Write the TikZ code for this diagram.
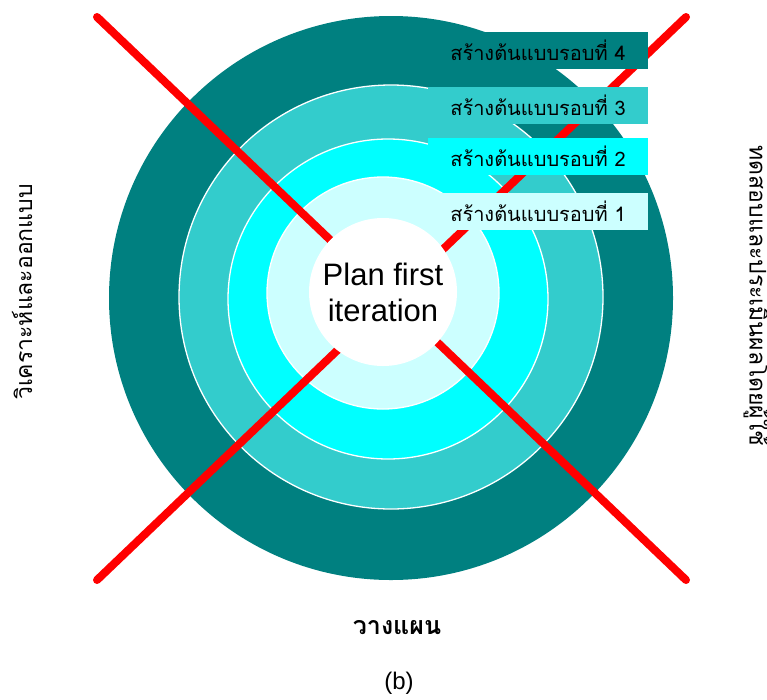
\documentclass[tikz,border=0pt]{standalone}
\usepackage{fontspec}
\setmainfont{Liberation Sans}
\newfontfamily\thaifont[Script=Thai]{Loma}
\definecolor{ringdark}{HTML}{008080}
\definecolor{ringmid}{HTML}{33CCCC}
\definecolor{ringcyan}{HTML}{00FFFF}
\definecolor{ringpale}{HTML}{CCFFFF}
\definecolor{crossred}{HTML}{FF0000}
\begin{document}
\begin{tikzpicture}[x=1pt,y=-1pt,
  ring/.style={circle, inner sep=0pt, outer sep=0pt},
  ringedge/.style={ring, draw=white, line width=1.3pt},
  cross/.style={draw=crossred, line width=8pt, line cap=round},
  roundtag/.style={rectangle, inner sep=0pt, outer sep=0pt,
    minimum width=220pt, minimum height=37pt,
    font=\thaifont\fontsize{20}{24}\selectfont, text=black},
  sidelabel/.style={font=\thaifont\fontsize{23}{26}\selectfont, inner sep=0pt},
  core/.style={circle, fill=white, inner sep=0pt, minimum size=148pt,
    align=center, font=\fontsize{31}{36}\selectfont}]
\useasboundingbox (0,0) rectangle (767,699);
\fill[white] (0,0) rectangle (767,699);

% concentric iteration rings, outermost first
\node[ring, fill=ringdark, minimum size=564pt] (ring4) at (391,298) {};
\node[ringedge, fill=ringmid, minimum size=424pt] (ring3) at (391,297) {};
\node[ringedge, fill=ringcyan, minimum size=320pt] (ring2) at (388,299) {};
\node[ringedge, fill=ringpale, minimum size=232pt] (ring1) at (383,293) {};

% the red cross over the rings
\coordinate (tl) at (97,17);
\coordinate (tr) at (686,17);
\coordinate (bl) at (97,580);
\coordinate (br) at (686,580);
\draw[cross] (tl) -- (br);
\draw[cross] (tr) -- (bl);

% centre of the spiral
\node[core] (start) at (383,292) {Plan first\\iteration};

% round labels
\node[roundtag, fill=ringdark] (tag4) at (538,50) {สร้างต้นแบบรอบที่ 4};
\node[roundtag, fill=ringmid] (tag3) at (538,105.5) {สร้างต้นแบบรอบที่ 3};
\node[roundtag, fill=ringcyan] (tag2) at (538,156) {สร้างต้นแบบรอบที่ 2};
\node[roundtag, fill=ringpale] (tag1) at (538,211) {สร้างต้นแบบรอบที่ 1};

% phase labels around the spiral
\node[sidelabel, rotate=90] (design) at (22,292) {วิเคราะห์และออกแบบ};
\node[sidelabel, rotate=-90] (test) at (757,296) {ทดสอบและประเมินผลโดยผู้ใช้};
\node[font=\thaifont\bfseries\fontsize{25}{28}\selectfont] (plan) at (397,628) {วางแผน};
\node[font=\fontsize{24}{28}\selectfont] (caption) at (399,683) {(b)};
\end{tikzpicture}
\end{document}
